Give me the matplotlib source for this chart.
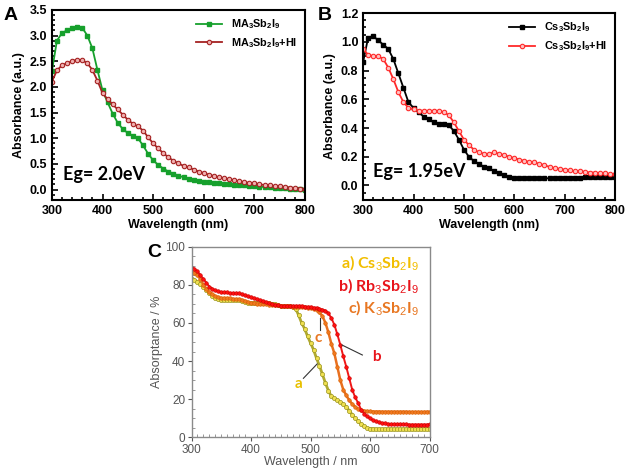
import matplotlib
matplotlib.use('Agg')
import matplotlib.pyplot as plt
from matplotlib.ticker import FormatStrFormatter, MultipleLocator
import numpy as np

# 字体设置
plt.rcParams['font.family'] = ['Liberation Sans', 'DejaVu Sans']
plt.rcParams['mathtext.fontset'] = 'custom'
plt.rcParams['mathtext.rm'] = 'Liberation Sans'
plt.rcParams['mathtext.bf'] = 'Liberation Sans:bold'
plt.rcParams['mathtext.it'] = 'Liberation Sans:italic'

# ---------------- 数据 ----------------
# A: MA3Sb2I9 (300-800 nm, 10 nm)
wl_ab = list(range(300, 801, 10))
ma = [2.30, 2.90, 3.05, 3.10, 3.15, 3.17, 3.15, 3.00, 2.75, 2.33,
      1.93, 1.70, 1.48, 1.30, 1.18, 1.10, 1.05, 1.00, 0.86, 0.70,
      0.57, 0.48, 0.41, 0.35, 0.31, 0.27, 0.24, 0.21, 0.19, 0.17,
      0.15, 0.14, 0.13, 0.12, 0.11, 0.10, 0.09, 0.085, 0.08, 0.07,
      0.06, 0.055, 0.05, 0.045, 0.04, 0.03, 0.025, 0.02, 0.015, 0.01,
      0.0]
ma_hi = [2.10, 2.32, 2.42, 2.46, 2.50, 2.53, 2.52, 2.46, 2.33, 2.12,
         1.88, 1.76, 1.66, 1.56, 1.46, 1.36, 1.28, 1.23, 1.15, 1.02,
         0.90, 0.80, 0.71, 0.63, 0.56, 0.51, 0.46, 0.43, 0.39, 0.35,
         0.32, 0.29, 0.26, 0.24, 0.22, 0.20, 0.18, 0.16, 0.145, 0.13,
         0.12, 0.10, 0.09, 0.08, 0.07, 0.06, 0.05, 0.04, 0.03, 0.02,
         0.01]

# B: Cs3Sb2I9
cs = [0.86, 1.03, 1.04, 1.01, 0.98, 0.95, 0.88, 0.78, 0.68, 0.58,
      0.54, 0.51, 0.48, 0.46, 0.44, 0.43, 0.43, 0.42, 0.38, 0.32,
      0.25, 0.20, 0.17, 0.15, 0.13, 0.12, 0.10, 0.09, 0.07, 0.06,
      0.05, 0.05, 0.05, 0.05, 0.05, 0.05, 0.05, 0.05, 0.05, 0.055,
      0.055, 0.055, 0.055, 0.055, 0.06, 0.06, 0.06, 0.06, 0.06, 0.06,
      0.06]
cs_hi = [0.95, 0.91, 0.90, 0.90, 0.88, 0.82, 0.74, 0.65, 0.58, 0.54,
         0.53, 0.52, 0.52, 0.52, 0.52, 0.52, 0.51, 0.49, 0.44, 0.38,
         0.32, 0.28, 0.25, 0.23, 0.22, 0.22, 0.23, 0.22, 0.21, 0.20,
         0.19, 0.18, 0.17, 0.165, 0.16, 0.15, 0.14, 0.13, 0.12, 0.115,
         0.11, 0.105, 0.10, 0.10, 0.095, 0.09, 0.09, 0.085, 0.085, 0.08,
         0.08]

# C: 吸收率 (300-700 nm, 5 nm)
wl_c = list(range(300, 701, 5))
abs_cs = [83, 82.5, 81.5, 80.5, 79, 77.5, 75.5, 74, 73, 72.5,
          72, 72, 72, 72, 72, 72, 72, 71.5, 71, 70.5,
          70.5, 70.5, 70.5, 70.5, 70.5, 70.5, 70.5, 70, 70, 69.5,
          69, 69, 69, 69, 68.5, 67.5, 64, 60, 57, 53,
          49.5, 46, 41.5, 37.5, 33, 28.5, 24.5, 21.5, 20.5, 19.5,
          18.5, 17.5, 16, 14, 12, 10, 8.5, 7, 6, 5,
          4.7, 4.5, 4.3, 4.2, 4.2, 4.2, 4.3, 4.3, 4.3, 4.3,
          4.3, 4.3, 4.4, 4.4, 4.4, 4.4, 4.4, 4.5, 4.5, 4.5,
          4.5]
abs_rb = [89, 88, 87, 85, 83, 81, 79, 78, 77, 76.5,
          76, 76, 76, 75.5, 75.5, 75.5, 75.5, 75, 74.5, 74,
          73.5, 73, 72.5, 72, 71.5, 71, 70.5, 70, 69.5, 69.5,
          69, 69, 69, 69, 69, 69, 69, 69, 68.5, 68.5,
          68.5, 68, 68, 67.5, 67, 66.5, 65, 62.5, 59, 54,
          48.5, 42.5, 37, 31, 25, 21, 18, 14.5, 12.5, 11,
          10, 9, 8.5, 8, 7.6, 7.4, 7.2, 7, 7, 7,
          7, 6.9, 6.9, 6.8, 6.8, 6.8, 6.8, 6.8, 6.8, 6.8,
          7]
abs_k = [87, 86, 85, 83, 80, 78, 76, 75, 74, 73.5,
         73, 73, 73, 73, 72.5, 72.5, 72.5, 72, 71.5, 71,
         70.5, 70.5, 70, 70, 70, 70, 69.5, 69.5, 69.5, 69.5,
         69, 69, 69, 69, 68.5, 68.5, 68.5, 68.5, 68.5, 68,
         68, 67.5, 67, 65.5, 63.5, 60, 55, 49, 44, 37,
         30, 25, 22, 19.5, 17.5, 16, 15, 14.3, 14, 13.8,
         13.7, 13.6, 13.6, 13.6, 13.5, 13.5, 13.5, 13.5, 13.5, 13.5,
         13.5, 13.5, 13.5, 13.4, 13.4, 13.4, 13.4, 13.4, 13.4, 13.5,
         13.5]

fig = plt.figure(figsize=(6.25, 4.68), dpi=100)


def style_ab(ax, ylim, yticks):
    ax.set_xlim(300, 800)
    ax.set_ylim(*ylim)
    ax.set_xticks(range(300, 801, 100))
    ax.set_yticks(yticks)
    ax.minorticks_on()
    ax.tick_params(which='both', direction='in', top=False, right=False, width=1.2)
    ax.tick_params(which='major', length=4, labelsize=9)
    ax.tick_params(which='minor', length=2.5)
    for lbl in ax.get_xticklabels() + ax.get_yticklabels():
        lbl.set_fontweight('bold')
    for sp in ax.spines.values():
        sp.set_linewidth(1.5)
    ax.yaxis.set_major_formatter(FormatStrFormatter('%.1f'))
    ax.set_xlabel('Wavelength (nm)', fontsize=9, fontweight='bold', labelpad=2)
    ax.set_ylabel('Absorbance (a.u.)', fontsize=9, fontweight='bold', labelpad=3)


eg_font = ['Lato', 'DejaVu Sans']

# ---------------- A ----------------
axA = fig.add_axes([0.083, 0.573, 0.405, 0.406])
axA.plot(wl_ab, ma, color='#16a02c', marker='s', ms=3.2, lw=1.3,
         label=r'$\mathbf{MA_3Sb_2I_9}$')
axA.plot(wl_ab, ma_hi, color='#a52222', marker='o', ms=3.2, lw=1.3,
         mfc='#f0b0b0', mec='#a52222', mew=0.8, label=r'$\mathbf{MA_3Sb_2I_9}$+HI')
style_ab(axA, (-0.2, 3.5), np.arange(0, 3.51, 0.5))
leg = axA.legend(loc='upper right', frameon=False, fontsize=7.8, handlelength=2.4,
                 borderaxespad=0.3, labelspacing=0.45)
for t in leg.get_texts():
    t.set_fontweight('bold')
axA.text(321, 0.3, 'Eg= 2.0eV', fontsize=13, fontweight='bold', va='center', family=eg_font)
fig.text(0.005, 0.985, 'A', fontsize=14, fontweight='bold', va='top')

# ---------------- B ----------------
axB = fig.add_axes([0.581, 0.573, 0.403, 0.399])
axB.plot(wl_ab, cs, color='black', marker='s', ms=3.2, lw=1.3,
         label=r'$\mathbf{Cs_3Sb_2I_9}$')
axB.plot(wl_ab, cs_hi, color='#ff2a2a', marker='o', ms=3.2, lw=1.3,
         mfc='#ffc0c0', mec='#ff2a2a', mew=0.8, label=r'$\mathbf{Cs_3Sb_2I_9}$+HI')
style_ab(axB, (-0.1, 1.2), np.arange(0, 1.21, 0.2))
leg = axB.legend(loc='upper right', frameon=False, fontsize=7.8, handlelength=2.4,
                 borderaxespad=0.3, labelspacing=0.45)
for t in leg.get_texts():
    t.set_fontweight('bold')
axB.text(320, 0.1, 'Eg= 1.95eV', fontsize=13, fontweight='bold', va='center', family=eg_font)
fig.text(0.508, 0.985, 'B', fontsize=14, fontweight='bold', va='top')

# ---------------- C ----------------
gray = '#555555'
axC = fig.add_axes([0.3064, 0.0652, 0.381, 0.408])
axC.plot(wl_c, abs_cs, color='#b0aa30', marker='o', ms=3.0, lw=2.0,
         mfc='#f0e050', mec='#9a9420', mew=0.5)
axC.plot(wl_c, abs_k, color='#e87020', marker='o', ms=2.6, lw=1.8,
         mfc='#f07820', mec='#d86000', mew=0.4)
axC.plot(wl_c, abs_rb, color='#f01818', marker='o', ms=2.6, lw=1.4,
         mfc='#ff1010', mec='#c80000', mew=0.4)
axC.set_xlim(300, 700)
axC.set_ylim(0, 100)
axC.set_xticks(range(300, 701, 100))
axC.set_yticks(range(0, 101, 20))
axC.xaxis.set_minor_locator(MultipleLocator(10))
axC.yaxis.set_minor_locator(MultipleLocator(5))
axC.tick_params(which='major', direction='out', length=3, colors=gray,
                labelsize=8.5, width=0.8, pad=1.5)
axC.tick_params(which='minor', direction='in', length=2, color='#888888', width=0.6)
for sp in axC.spines.values():
    sp.set_color('#8a8a8a')
    sp.set_linewidth(1.0)
axC.set_xlabel('Wavelength / nm', fontsize=9, color=gray, labelpad=0)
axC.set_ylabel('Absorptance / %', fontsize=9, color=gray, labelpad=2)

# 曲线标注
axC.plot([511, 488], [38.5, 31], color='#333333', lw=0.8)
axC.plot([553, 587], [48.4, 43.2], color='#333333', lw=0.8)
axC.plot([516, 516], [62.5, 56.4], color='#333333', lw=0.8)
axC.text(480, 28, 'a', color='#e8c000', fontsize=11, fontweight='bold', ha='center',
         va='center', family=eg_font)
axC.text(611, 42, 'b', color='#e8141b', fontsize=11, fontweight='bold', ha='center',
         va='center', family=eg_font)
axC.text(513.5, 52, 'c', color='#e87722', fontsize=11, fontweight='bold', ha='center',
         va='center', family=eg_font)

axC.text(682, 91.3, r'a) Cs$_3$Sb$_2$I$_9$', color='#f2be00', fontsize=11.5, ha='right',
         va='center', family=eg_font, fontweight='bold')
axC.text(682, 79, r'b) Rb$_3$Sb$_2$I$_9$', color='#e8141b', fontsize=11.5, ha='right',
         va='center', family=eg_font, fontweight='bold')
axC.text(682, 67.8, r'c) K$_3$Sb$_2$I$_9$', color='#e87722', fontsize=11.5, ha='right',
         va='center', family=eg_font, fontweight='bold')
fig.text(0.235, 0.479, 'C', fontsize=14, fontweight='bold', va='top')

plt.savefig('out.png', dpi=100)
